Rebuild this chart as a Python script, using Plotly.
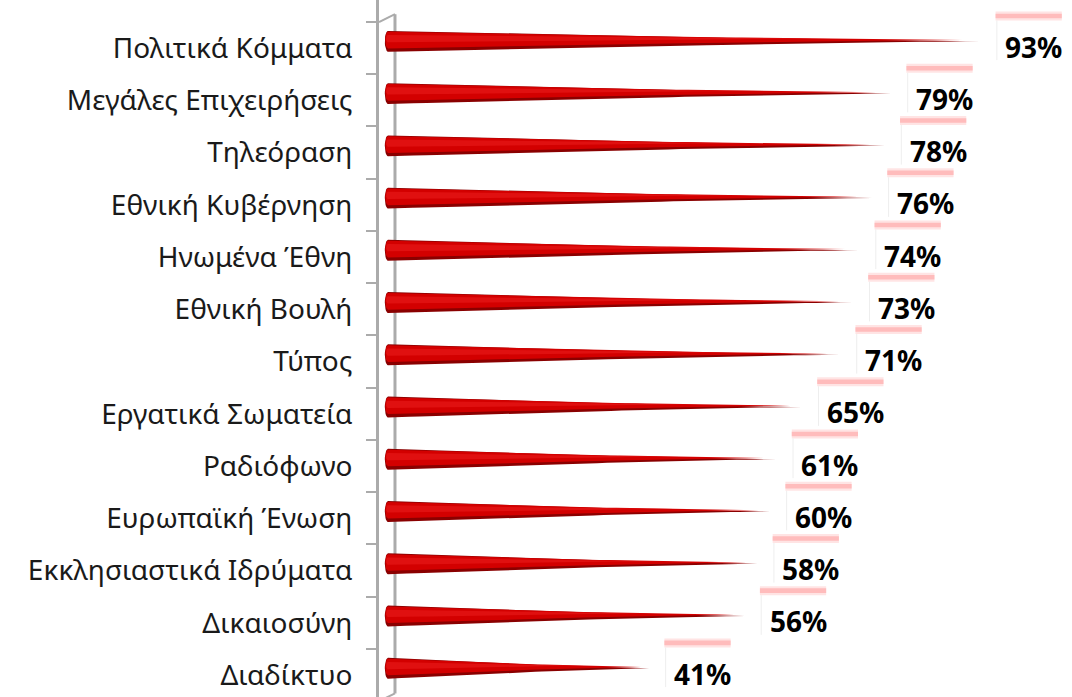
import numpy as np
import plotly.graph_objects as go

categories = ["Πολιτικά Κόμματα", "Μεγάλες Επιχειρήσεις", "Τηλεόραση", "Εθνική Κυβέρνηση",
              "Ηνωμένα Έθνη", "Εθνική Βουλή", "Τύπος", "Εργατικά Σωματεία", "Ραδιόφωνο",
              "Ευρωπαϊκή Ένωση", "Εκκλησιαστικά Ιδρύματα", "Δικαιοσύνη", "Διαδίκτυο"]
values = [93, 79, 78, 76, 74, 73, 71, 65, 61, 60, 58, 56, 41]
value_labels = [f"{v}%" for v in values]

FONT = "Noto Sans"
YR = [12.419, -0.921]
XR = [-1.41, 107.4]
DEPTH = 0.15   # back-wall offset (rows)
BAR_OFF = 0.13
H0 = 0.2       # half thickness at base (rows)
WALL_X = 1.1
AXIS_GRAY = "#ababab"

fig = go.Figure()

# invisible trace to register categories on the category axis
fig.add_trace(go.Scatter(x=values, y=categories, mode="markers",
                         marker=dict(opacity=0), hoverinfo="skip", showlegend=False,
                         xaxis="x", yaxis="y"))

def spike(v, c, h0, rx):
    t = np.linspace(0, 1, 40)
    h = h0 * (1 - t) ** 1.3
    xs_top = v * t
    th = np.linspace(np.pi / 2, 3 * np.pi / 2, 15)
    cap_x = rx * np.cos(th)
    cap_y = c - h0 * np.sin(th)
    xs = np.concatenate([xs_top, xs_top[::-1], cap_x])
    ys = np.concatenate([c - h, (c + h)[::-1], cap_y])
    return xs, ys

for i, v in enumerate(values):
    c = i - BAR_OFF
    xs, ys = spike(v, c, H0, 0.5)
    fig.add_trace(go.Scatter(x=xs, y=ys, fill="toself", fillcolor="#8a0000",
                             mode="lines", line=dict(width=0), hoverinfo="skip",
                             showlegend=False, yaxis="y2"))
    xs2, ys2 = spike(v * 0.97, c - 0.025, H0 * 0.8, 0.42)
    fig.add_trace(go.Scatter(x=xs2, y=ys2, fill="toself", fillcolor="#d30000",
                             mode="lines", line=dict(width=0), hoverinfo="skip",
                             showlegend=False, yaxis="y2"))
    xs3, ys3 = spike(v * 0.75, c - 0.05, H0 * 0.35, 0.3)
    fig.add_trace(go.Scatter(x=xs3, y=ys3, fill="toself", fillcolor="#e01010",
                             mode="lines", line=dict(width=0), hoverinfo="skip",
                             showlegend=False, yaxis="y2"))

shapes = []
# back wall line and connectors
shapes.append(dict(type="line", xref="x", yref="y2", x0=WALL_X, x1=WALL_X,
                   y0=-0.5 - DEPTH, y1=12.5 - DEPTH, line=dict(color=AXIS_GRAY, width=3), layer="below"))
shapes.append(dict(type="line", xref="x", yref="y2", x0=XR[0], x1=WALL_X,
                   y0=-0.5, y1=-0.5 - DEPTH, line=dict(color=AXIS_GRAY, width=2), layer="below"))
shapes.append(dict(type="line", xref="x", yref="y2", x0=XR[0], x1=WALL_X,
                   y0=12.5, y1=12.5 - DEPTH, line=dict(color=AXIS_GRAY, width=2), layer="below"))

annotations = []
for i, (v, lab) in enumerate(zip(values, value_labels)):
    c = i - BAR_OFF
    # label box: pink top strip + faint left edge
    shapes.append(dict(type="rect", xref="x", yref="y2", x0=v + 2.4, x1=v + 12.8,
                       y0=c - 0.57, y1=c - 0.40, fillcolor="#ffe4e4", line=dict(width=0)))
    shapes.append(dict(type="rect", xref="x", yref="y2", x0=v + 2.4, x1=v + 12.8,
                       y0=c - 0.53, y1=c - 0.44, fillcolor="#ffbcbc", line=dict(width=0)))
    shapes.append(dict(type="line", xref="x", yref="y2", x0=v + 2.6, x1=v + 2.6,
                       y0=c - 0.40, y1=c + 0.36, line=dict(color="#eeeeee", width=1)))
    annotations.append(dict(x=v + 3.6, y=c + 0.1, xref="x", yref="y2", text=lab,
                            showarrow=False, xanchor="left", yanchor="middle",
                            font=dict(family=FONT, size=28, color="#000000", weight="bold")))

fig.update_layout(
    width=1072, height=697,
    margin=dict(l=379, r=0, t=0, b=0, autoexpand=False),
    paper_bgcolor="white", plot_bgcolor="white",
    xaxis=dict(range=XR, visible=False, fixedrange=True),
    yaxis=dict(type="category", categoryorder="array", categoryarray=categories,
               range=YR, showline=True, linecolor=AXIS_GRAY, linewidth=3,
               ticks="outside", tickson="boundaries", ticklen=10, tickwidth=2,
               tickcolor=AXIS_GRAY, showgrid=False, zeroline=False,
               ticklabelstandoff=18, automargin=False,
               tickfont=dict(family=FONT, size=28, color="#1a1a1a")),
    yaxis2=dict(range=YR, overlaying="y", visible=False, showgrid=False, zeroline=False),
    shapes=shapes, annotations=annotations, showlegend=False,
)

fig.write_html("out.html", config={"displayModeBar": False},
               post_script="document.body.style.margin='0';document.body.style.padding='0';")
